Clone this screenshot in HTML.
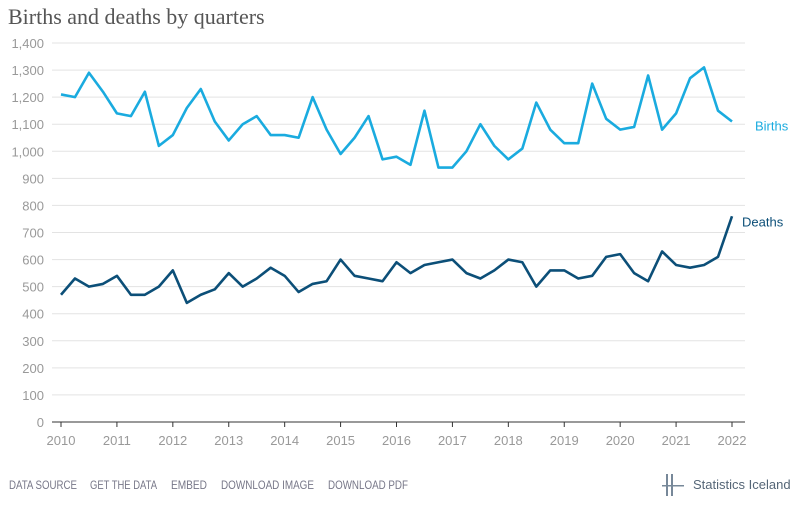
<!DOCTYPE html>
<html><head><meta charset="utf-8"><style>
body{margin:0;background:#fff;width:798px;height:513px;overflow:hidden;font-family:"Liberation Sans",sans-serif}
svg text{font-family:"Liberation Sans",sans-serif}
</style></head><body>
<svg id="chart" width="798" height="513" xmlns="http://www.w3.org/2000/svg">
<text x="8" y="24" font-size="22" fill="#555" style="font-family:'Liberation Serif',serif">Births and deaths by quarters</text>
<g id="grid"></g><g id="series"></g>
<g font-size="12" fill="#778">
<text x="9" y="489" textLength="68" lengthAdjust="spacingAndGlyphs">DATA SOURCE</text>
<text x="90" y="489" textLength="67" lengthAdjust="spacingAndGlyphs">GET THE DATA</text>
<text x="171" y="489" textLength="36" lengthAdjust="spacingAndGlyphs">EMBED</text>
<text x="221" y="489" textLength="93" lengthAdjust="spacingAndGlyphs">DOWNLOAD IMAGE</text>
<text x="328" y="489" textLength="80" lengthAdjust="spacingAndGlyphs">DOWNLOAD PDF</text>
</g>
<g>
<rect x="666" y="474" width="2" height="22" fill="#789"/><rect x="671" y="474" width="2" height="22" fill="#789"/><rect x="662" y="485" width="22" height="1.5" fill="#789"/>
<text x="693" y="489" font-size="13" fill="#567">Statistics Iceland</text></g>
</svg>
<script>
const years=["2010","2011","2012","2013","2014","2015","2016","2017","2018","2019","2020","2021","2022"];
const yTicks=[0,100,200,300,400,500,600,700,800,900,1000,1100,1200,1300,1400];
const births=[1210,1200,1290,1220,1140,1130,1220,1020,1060,1160,1230,1110,1040,1100,1130,1060,1060,1050,1200,1080,990,1050,1130,970,980,950,1150,940,940,1000,1100,1020,970,1010,1180,1080,1030,1030,1250,1120,1080,1090,1280,1080,1140,1270,1310,1150,1110];
const deaths=[470,530,500,510,540,470,470,500,560,440,470,490,550,500,530,570,540,480,510,520,600,540,530,520,590,550,580,590,600,550,530,560,600,590,500,560,560,530,540,610,620,550,520,630,580,570,580,610,760];
const NS="http://www.w3.org/2000/svg";
const x0=61,x1=732,y0=422,y1=43;
const xq=i=>x0+(x1-x0)*i/48;
const yv=v=>y0-(y0-y1)*v/1400;
const grid=document.getElementById('grid'),ser=document.getElementById('series');
function mk(tag,at,p){const e=document.createElementNS(NS,tag);for(const k in at)e.setAttribute(k,at[k]);p.appendChild(e);return e;}
yTicks.forEach(v=>{
 const l=mk('line',{x1:52,x2:745,y1:yv(v),y2:yv(v),stroke:v===0?'#333':'#e3e3e3','stroke-width':1},grid);
 
 
 const t=mk('text',{x:44,y:yv(v)+5,'text-anchor':'end','font-size':13,fill:'#999'},grid);
 t.textContent=v.toLocaleString('en-US');
 
 
});
years.forEach((y,i)=>{
 const x=xq(i*4);
 const tk=mk('line',{x1:x,x2:x,y1:y0,y2:y0+5,stroke:'#333'},grid);
 
 
 const t=mk('text',{x:x,y:y0+23,'text-anchor':'middle','font-size':13,fill:'#999'},grid);
 t.textContent=y;
 
 
});
function line(arr,col,name,label,dx,dy){
 const p=mk('polyline',{points:arr.map((v,i)=>xq(i)+','+yv(v)).join(' '),fill:'none',stroke:col,'stroke-width':2.6,'stroke-linejoin':'round'},ser);
 
 
 const t=mk('text',{x:xq(48)+dx,y:yv(arr[48])+dy,'font-size':13,fill:col},ser);
 t.textContent=label;
 
 
}
line(births,'#1aabdf','births','Births',23,9);
line(deaths,'#0c4f78','deaths','Deaths',10,10);
</script>
</body></html>
